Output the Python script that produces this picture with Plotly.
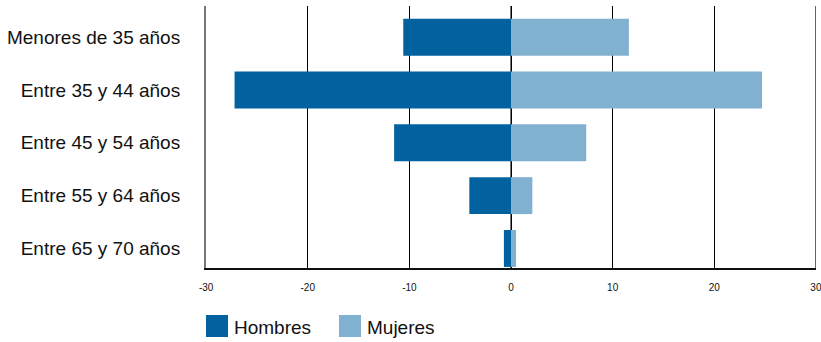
import plotly.graph_objects as go

# Age groups (top to bottom) and values per sex
categories = [
    "Menores de 35 años",
    "Entre 35 y 44 años",
    "Entre 45 y 54 años",
    "Entre 55 y 64 años",
    "Entre 65 y 70 años",
]
hombres = [-10.6, -27.2, -11.5, -4.1, -0.7]
mujeres = [11.6, 24.7, 7.4, 2.1, 0.5]
x_ticks = [-30, -20, -10, 0, 10, 20, 30]

col_h = "#02629f"
col_m = "#81b1d0"

fig = go.Figure()
fig.add_trace(go.Bar(y=categories, x=hombres, orientation="h", name="Hombres",
                     marker=dict(color=col_h, line=dict(width=0)), showlegend=False))
fig.add_trace(go.Bar(y=categories, x=mujeres, orientation="h", name="Mujeres",
                     marker=dict(color=col_m, line=dict(width=0)), showlegend=False))

W, H = 821, 342
L, R, T, B = 206, 5, 6, 74
pw, ph = W - L - R, H - T - B

def px_x(px):
    return (px - L) / pw

def px_y(py):
    return (H - B - py) / ph

shapes = [
    # grey zero line, kept beneath the bars
    dict(type="line", xref="x", yref="paper", x0=0, x1=0, y0=0, y1=1,
         line=dict(color="#777777", width=2), layer="below"),
    # gridline at the right end of the axis
    dict(type="line", xref="x", yref="paper", x0=x_ticks[-1], x1=x_ticks[-1], y0=0, y1=1,
         line=dict(color="#000000", width=1), layer="below"),
]
annotations = []
# Legend: large colour squares with labels below the plot
for x0, label, col in [(206, "Hombres", col_h), (339, "Mujeres", col_m)]:
    shapes.append(dict(type="rect", xref="paper", yref="paper",
                       x0=px_x(x0), x1=px_x(x0 + 22), y0=px_y(337), y1=px_y(315),
                       fillcolor=col, line=dict(width=0)))
    annotations.append(dict(xref="paper", yref="paper", x=px_x(x0 + 26), y=px_y(327),
                            text=label, showarrow=False, xanchor="left", yanchor="middle",
                            font=dict(family="Liberation Sans, Arial, sans-serif", size=19,
                                      color="#111111")))

fig.update_layout(
    width=W, height=H,
    margin=dict(l=L, r=R, t=T, b=B, autoexpand=False),
    barmode="relative",
    bargap=0.3,
    plot_bgcolor="white",
    paper_bgcolor="white",
    shapes=shapes,
    annotations=annotations,
    xaxis=dict(
        range=[-30.01, 30.01], tickvals=x_ticks, ticktext=[str(v) for v in x_ticks],
        showgrid=True, gridcolor="#000000", gridwidth=1,
        zeroline=False, automargin=False,
        showline=True, linecolor="#111111", linewidth=2,
        ticks="", ticklabelstandoff=9, ticklabeloverflow="allow",
        tickfont=dict(family="Liberation Sans Narrow, Liberation Sans, Arial", size=10,
                      color="#111111"),
    ),
    yaxis=dict(
        type="category",
        range=[4.37, -0.59],
        showgrid=False, zeroline=False, automargin=False,
        showline=True, linecolor="#777777", linewidth=2,
        ticks="", ticklabelstandoff=20,
        tickfont=dict(family="Liberation Sans, Arial, sans-serif", size=19, color="#111111"),
    ),
)

fig.write_html("out.html")
